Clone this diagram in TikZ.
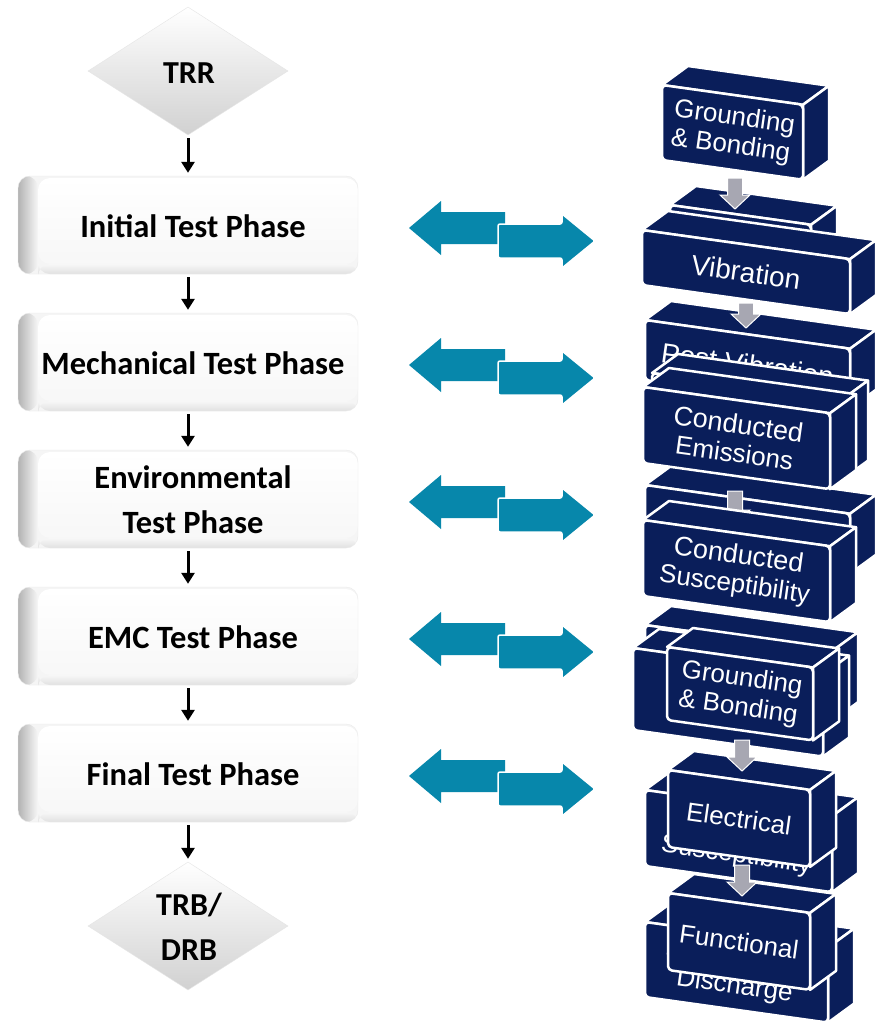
\documentclass[tikz,border=0pt]{standalone}
\usepackage{fontspec}
\setmainfont{Carlito}
\newfontfamily\arialf{Liberation Sans}
\usetikzlibrary{arrows.meta,shapes.geometric,calc}
\definecolor{navy}{HTML}{0A1E5A}
\definecolor{teal2}{HTML}{0787AB}
\definecolor{garrow}{HTML}{A7A7B2}
\tikzset{
  phase/.style={minimum width=340pt, minimum height=98pt, rounded corners=12pt, inner sep=0pt,
    draw=black!8,
    label={[align=center, font=\fontsize{32.5}{45}\selectfont\bfseries, xshift=5pt, yshift=-1pt]center:#1},
    path picture={
      \fill[white!96!black] (path picture bounding box.south west) rectangle (path picture bounding box.north east);
      \shade[left color=black!30, right color=white!97!black] (path picture bounding box.south west) rectangle ([xshift=20pt]path picture bounding box.north west);
      \shade[bottom color=black!12, top color=white!97!black] ([xshift=20pt]path picture bounding box.south west) rectangle ([yshift=10pt]path picture bounding box.south east);
      \shade[top color=white, bottom color=white!97!black] ([xshift=20pt,yshift=-2pt]path picture bounding box.north west) rectangle ([yshift=10pt]path picture bounding box.south east);
    }},
  dmd/.style={diamond, minimum width=200pt, minimum height=128pt, inner sep=0pt, draw=black!10,
    top color=white, middle color=white, bottom color=black!18},
  dtext/.style={align=center, font=\fontsize{32}{45}\selectfont\bfseries},
  blk/.style={line width=3pt, -{Triangle[length=11pt,width=13pt]}, shorten <=3pt, shorten >=3pt},
  cubeface/.style={fill=navy, draw=white, line width=2.5pt, line join=round},
  cubetext/.style={rotate=-8, text=white, align=center, font=\arialf\fontsize{26}{29}\selectfont},
}
\newcommand{\mycube}[6]{%
  \path (#1,#2) coordinate (cA) ++(#3,{0.14*#3}) coordinate (cB) ++(0,#4) coordinate (cC);
  \path (#1,#2) ++(0,#4) coordinate (cD);
  \filldraw[cubeface] (cA) -- ++(26,-19) -- ++(#3,{0.14*#3}) -- (cB) -- cycle;
  \filldraw[cubeface] (cB) -- ++(26,-19) -- ++(0,#4) -- (cC) -- cycle;
  \filldraw[cubeface, rounded corners=4pt] (cA) -- (cB) -- (cC) -- (cD) -- cycle;
  \node[cubetext] (#6) at ($(cA)!0.5!(cC)$) {#5};
}
\newcommand{\garr}[3]{%
  \filldraw[fill=garrow, draw=white, line width=1pt]
    ({#1-7.5},#2) -- ({#1+7.5},#2) -- ({#1+7.5},{#3-14}) -- ({#1+15},{#3-14}) -- (#1,#3)
    -- ({#1-15},{#3-14}) -- ({#1-7.5},{#3-14}) -- cycle;}
\newcommand{\tealpair}[1]{%
  \fill[teal2] (409,#1) -- (441,{#1-27}) -- (441,{#1-16}) -- (505,{#1-16}) -- (505,{#1+16})
    -- (441,{#1+16}) -- (441,{#1+27}) -- cycle;
  \filldraw[fill=teal2, draw=white, line width=1.5pt, rounded corners=2pt]
    (498,{#1-4}) -- (562,{#1-4}) -- (562,{#1-14}) -- (595,{#1+13}) -- (562,{#1+40})
    -- (562,{#1+30}) -- (498,{#1+30}) -- cycle;}
\begin{document}
\begin{tikzpicture}[x=1pt,y=-1pt]
\fill[white] (0,0) rectangle (878,1021);
\useasboundingbox (0,0) rectangle (878,1021);

% left flow
\node[dmd] (trr) at (188,71) {};
\node[dtext] (trrt) at (189,73) {TRR};
\node[phase={Initial Test Phase}] (p1) at (188,225) {};
\node[phase={Mechanical Test Phase}] (p2) at (188,362) {};
\node[phase={Environmental\\Test Phase}] (p3) at (188,499) {};
\node[phase={EMC Test Phase}] (p4) at (188,636) {};
\node[phase={Final Test Phase}] (p5) at (188,773) {};
\node[dmd] (trb) at (188,926) {};
\node[dtext] (trbt) at (189,927) {TRB/\\DRB};
\draw[blk] (trr.south) -- (p1.north);
\draw[blk] (p1.south) -- (p2.north);
\draw[blk] (p2.south) -- (p3.north);
\draw[blk] (p3.south) -- (p4.north);
\draw[blk] (p4.south) -- (p5.north);
\draw[blk] (p5.south) -- (trb.north);

% teal double arrows
\tealpair{228}
\tealpair{365}
\tealpair{502}
\tealpair{639}
\tealpair{776}

% right column of blocks
\mycube{662}{85}{141}{75}{Grounding\\\& Bonding}{gb1}
\mycube{670}{205}{141}{75}{}{h1}
\garr{735}{178}{209}
\mycube{642}{230}{208}{55}{\fontsize{28}{30}\selectfont Vibration}{vib}
\mycube{645}{320}{205}{60}{\fontsize{28}{30}\selectfont Post Vibration}{pvib}
\garr{746}{303}{328}
\mycube{645}{485}{205}{60}{}{h2}
\mycube{652}{373}{190}{80}{}{h3}
\mycube{643}{387}{187}{76}{\fontsize{27}{29}\selectfont Conducted\\Emissions}{ce}
\garr{735}{491}{524}
\mycube{645}{625}{187}{70}{}{h4}
\mycube{643}{520}{187}{76}{\fontsize{27}{29}\selectfont Conducted\\Susceptibility}{cs}
\mycube{633}{648}{190}{82}{}{h5}
\mycube{667}{647}{146}{73}{Grounding\\\& Bonding}{gb2}
\mycube{645}{790}{187}{76}{\fontsize{27}{29}\selectfont Radiated\\Susceptibility}{rs}
\mycube{668}{770}{142}{77}{Electrical}{el}
\garr{742}{740}{771}
\mycube{645}{922}{183}{75}{\fontsize{27}{29}\selectfont Electrostatic\\Discharge}{esd}
\mycube{668}{893}{142}{77}{Functional}{fn}
\garr{742}{865}{896}
\end{tikzpicture}
\end{document}
